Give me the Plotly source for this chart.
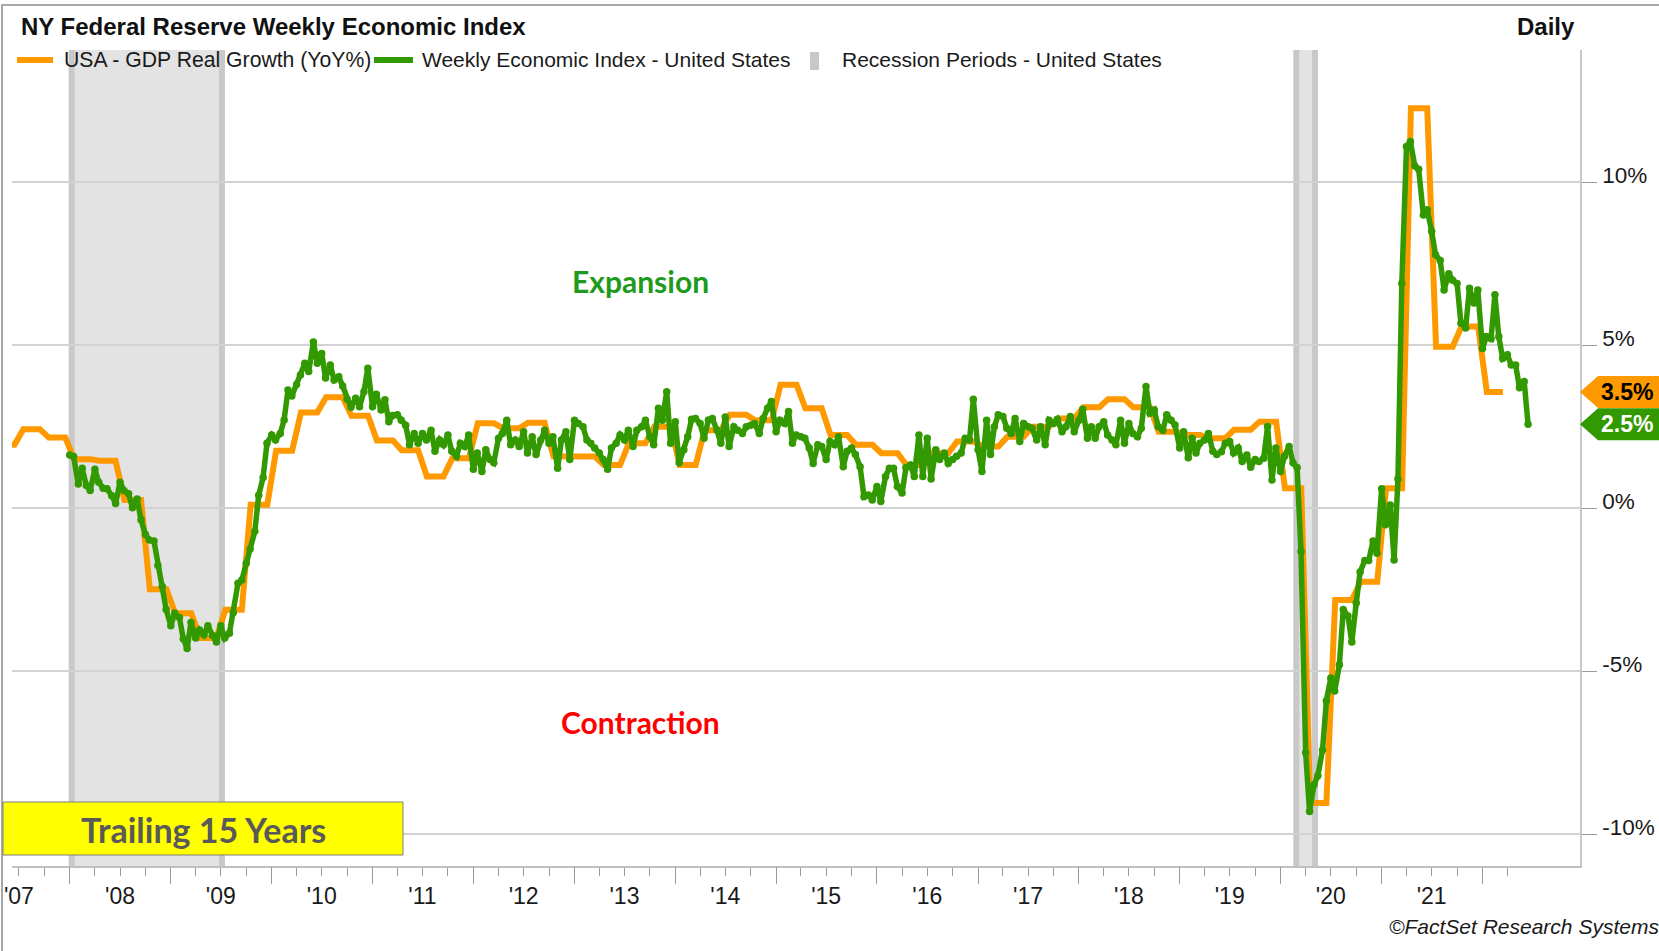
import math
import pandas as pd
import plotly.graph_objects as go

# ---------------- data ----------------
# US real GDP growth, YoY %, one value per quarter from 2007-Q2 to 2022-Q1
gdp_first_quarter = "2007-04-01"
gdp_yoy = [1.95, 2.43, 2.17,
           1.51, 1.46, 0.26, -2.48,
           -3.22, -3.98, -3.11, 0.11,
           1.77, 2.94, 3.41, 2.84,
           2.08, 1.78, 0.98, 1.54,
           2.61, 2.46, 2.63, 1.60,
           1.59, 1.33, 2.00, 2.50,
           1.33, 2.40, 2.87, 2.70,
           3.79, 3.07, 2.25, 1.95,
           1.69, 1.33, 1.69, 2.05,
           1.90, 2.20, 2.50, 2.76,
           3.10, 3.35, 3.10, 2.35,
           2.25, 2.15, 2.41, 2.66,
           0.62, -9.04, -2.81, -2.25,
           0.62, 12.27, 4.96, 5.58,
           3.57]

# NY Fed Weekly Economic Index, sampled twice a month (1st and 15th), from 2008-01-01
wei_first_date = "2008-01-01"
wei_2008 = [1.64, 1.59, 0.75, 1.23, 0.70, 0.55, 1.20, 0.80, 0.62, 0.60, 0.39, 0.15,
            0.80, 0.55, 0.45, 0.02, 0.29, -0.35, -0.80, -0.97, -1.00, -1.75, -2.40, -3.10]
wei_2009 = [-3.60, -3.22, -3.35, -4.00, -4.30, -3.50, -3.98, -3.73, -3.88, -3.60, -3.90, -4.10,
            -3.60, -3.98, -3.83, -3.20, -2.30, -2.20, -1.68, -1.25, -0.70, 0.40, 0.95, 2.00]
wei_2010 = [2.25, 2.10, 2.30, 2.71, 3.63, 3.45, 3.80, 4.09, 4.45, 4.20, 5.10, 4.45,
            4.75, 4.00, 4.40, 3.94, 4.04, 3.75, 3.35, 3.10, 3.38, 3.12, 3.58, 4.30]
wei_2011 = [3.12, 3.50, 3.02, 3.33, 2.66, 2.85, 2.87, 2.70, 2.55, 1.95, 2.30, 2.00,
            2.30, 2.10, 2.40, 1.75, 2.10, 1.95, 2.25, 1.75, 1.60, 2.00, 1.90, 2.25]
wei_2012 = [1.20, 1.70, 1.13, 1.80, 1.50, 1.40, 2.15, 2.30, 2.70, 1.95, 2.10, 1.90,
            2.35, 1.70, 2.20, 1.65, 2.10, 2.40, 2.00, 2.20, 1.23, 2.10, 2.35, 1.50]
wei_2013 = [2.70, 2.60, 2.50, 2.10, 2.00, 1.85, 1.70, 1.50, 1.20, 1.85, 2.00, 2.25,
            2.10, 2.40, 1.90, 2.40, 2.50, 2.70, 2.20, 1.95, 3.07, 2.70, 3.58, 2.00]
wei_2014 = [2.66, 1.40, 1.80, 2.20, 2.73, 2.76, 2.60, 2.15, 2.71, 2.76, 2.40, 2.00,
            2.80, 1.90, 2.50, 2.40, 2.30, 2.50, 2.55, 2.60, 2.30, 2.76, 3.07, 3.28]
wei_2015 = [2.35, 2.70, 2.60, 2.97, 2.00, 2.25, 2.20, 2.15, 1.85, 1.38, 1.95, 1.90,
            1.50, 2.05, 1.95, 2.20, 1.28, 1.75, 1.85, 1.65, 1.28, 0.36, 0.41, 0.26]
wei_2016 = [0.67, 0.21, 0.98, 1.23, 1.23, 0.67, 0.47, 1.25, 1.33, 0.98, 2.25, 0.98,
            2.15, 0.90, 1.80, 1.50, 1.70, 1.38, 1.50, 1.60, 1.70, 2.15, 2.10, 3.35]
wei_2017 = [1.80, 1.13, 2.70, 1.65, 2.50, 2.87, 2.82, 2.46, 2.30, 2.76, 2.05, 2.60,
            2.50, 2.46, 2.10, 2.50, 1.95, 2.70, 2.60, 2.73, 2.35, 2.50, 2.82, 2.35]
wei_2018 = [2.70, 3.04, 2.15, 2.50, 2.15, 2.50, 2.66, 2.25, 2.10, 1.95, 2.70, 2.00,
            2.60, 2.30, 2.20, 2.46, 3.74, 2.92, 3.02, 2.50, 2.40, 2.87, 2.70, 2.56]
wei_2019 = [1.85, 2.35, 1.55, 2.15, 1.70, 2.00, 2.10, 2.30, 1.75, 1.65, 1.74, 2.00,
            2.05, 1.70, 1.85, 1.44, 1.64, 1.26, 1.50, 1.44, 1.54, 2.51, 0.87, 1.85]
wei_2020 = [1.13, 1.60, 1.90, 1.40, 1.25, -1.32, -7.50, -9.30, -8.48, -8.20, -7.41, -5.90,
            -5.20, -5.60, -4.80, -3.10, -3.30, -4.10, -2.90, -1.95, -1.60, -1.60, -1.00, -1.38]
wei_2021 = [0.60, -0.50, 0.10, -1.58, 0.90, 6.90, 11.10, 11.25, 10.50, 10.40, 9.00, 9.16,
            8.50, 7.78, 7.60, 6.70, 7.20, 7.00, 6.90, 5.68, 5.53, 6.75, 6.30, 6.70]
wei_2022 = [4.90, 5.27, 5.20, 6.55, 5.27, 4.60, 4.71, 4.40, 4.40, 3.70, 3.89, 2.58]

# NBER recession periods (as shaded in the picture)
recession_starts = ["2008-01-08", "2020-02-27"]
recession_ends = ["2009-07-05", "2020-05-05"]

# axis
x_range = ["2007-06-06", "2022-12-20"]
year_labels = ["'07", "'08", "'09", "'10", "'11", "'12", "'13", "'14",
               "'15", "'16", "'17", "'18", "'19", "'20", "'21"]
label_years = list(range(2007, 2022))
long_tick_years = list(range(2008, 2023))
y_ticks = [-10, -5, 0, 5, 10]
y_ticktext = ["-10%", "-5%", "0%", "5%", "10%"]
y_range = [-10.97, 14.06]

# ---------------- styles ----------------
ORANGE = "#FF9900"
GREEN = "#339900"
SHADE = "#E3E3E3"
SHADE_EDGE = "#C9C9C9"
ARIAL = "Liberation Sans, Arial, sans-serif"
W, H = 1659, 951
ML, MR, MT, MB = 12, 79, 50, 85
PW, PH = W - ML - MR, H - MT - MB


def px(x):
    return (x - ML) / PW


def py(y):
    return (H - MB - y) / PH


def tag_text(v):
    # FactSet truncates the last value to one decimal
    return f"{math.floor(v * 10) / 10:.1f}%"


# ---------------- build series ----------------
wei = (wei_2008 + wei_2009 + wei_2010 + wei_2011 + wei_2012 + wei_2013 + wei_2014 +
       wei_2015 + wei_2016 + wei_2017 + wei_2018 + wei_2019 + wei_2020 + wei_2021 + wei_2022)
wei_dates = pd.date_range(wei_first_date, periods=len(wei), freq="SMS")

q_starts = pd.date_range(gdp_first_quarter, periods=len(gdp_yoy), freq="QS")
gdp_x, gdp_y = [], []
for qs, v in zip(q_starts, gdp_yoy):
    qe = qs + pd.DateOffset(months=3)
    gdp_x += [qs + pd.Timedelta(days=16), qe - pd.Timedelta(days=16)]
    gdp_y += [v, v]

fig = go.Figure()
fig.add_trace(go.Scatter(x=gdp_x, y=gdp_y, mode="lines", name="USA - GDP Real Growth (YoY%)",
                         line=dict(color=ORANGE, width=6), showlegend=False, hoverinfo="skip"))
fig.add_trace(go.Scatter(x=wei_dates, y=wei, mode="lines+markers",
                         name="Weekly Economic Index - United States",
                         line=dict(color=GREEN, width=5.5), marker=dict(color=GREEN, size=7.5),
                         showlegend=False, hoverinfo="skip"))
# empty trace so that the overlay axis for yearly ticks is drawn
fig.add_trace(go.Scatter(x=[], y=[], xaxis="x2", yaxis="y", showlegend=False, hoverinfo="skip"))

shapes = []
for s, e in zip(recession_starts, recession_ends):
    shapes.append(dict(type="rect", xref="x", yref="paper", x0=s, x1=e, y0=0, y1=1,
                       fillcolor=SHADE, line=dict(width=0), layer="below"))
    for xx in (s, e):
        shapes.append(dict(type="line", xref="x", yref="paper", x0=xx, x1=xx, y0=0, y1=1,
                           line=dict(color=SHADE_EDGE, width=6), layer="below"))

# outer frame
shapes.append(dict(type="rect", xref="paper", yref="paper", x0=px(2), x1=px(1665), y0=py(5), y1=py(960),
                   line=dict(color="#A8A8A8", width=2), fillcolor="rgba(0,0,0,0)", layer="above"))

# legend symbols
shapes.append(dict(type="line", xref="paper", yref="paper", x0=px(17), x1=px(53), y0=py(60), y1=py(60),
                   line=dict(color=ORANGE, width=6)))
shapes.append(dict(type="line", xref="paper", yref="paper", x0=px(374), x1=px(413), y0=py(60), y1=py(60),
                   line=dict(color=GREEN, width=6)))
shapes.append(dict(type="rect", xref="paper", yref="paper", x0=px(810), x1=px(819), y0=py(52), y1=py(70),
                   fillcolor="#C8C8C8", line=dict(width=0)))

# trailing box
shapes.append(dict(type="rect", xref="paper", yref="paper", x0=px(3), x1=px(403), y0=py(802), y1=py(855),
                   fillcolor="#FFFF00", line=dict(color="#7F7F7F", width=1), layer="above"))

# last-value tags on the right
for val, col in ((gdp_yoy[-1], ORANGE), (wei[-1], GREEN)):
    shapes.append(dict(type="path", xref="paper", yref="y", xsizemode="pixel", ysizemode="pixel",
                       xanchor=1.0, yanchor=val,
                       path="M0,0 L18,16 L79,16 L79,-16 L18,-16 Z",
                       fillcolor=col, line=dict(width=0), layer="above"))

annotations = [
    dict(x=px(19), y=py(26), xref="paper", yref="paper", xanchor="left", yanchor="middle",
         text="<b>NY Federal Reserve Weekly Economic Index</b>", showarrow=False,
         font=dict(family=ARIAL, size=24, color="#111111")),
    dict(x=px(1577), y=py(26), xref="paper", yref="paper", xanchor="right", yanchor="middle",
         text="<b>Daily</b>", showarrow=False, font=dict(family=ARIAL, size=24, color="#111111")),
    dict(x=px(62), y=py(60), xref="paper", yref="paper", xanchor="left", yanchor="middle",
         text="USA - GDP Real Growth (YoY%)", showarrow=False,
         font=dict(family=ARIAL, size=21.2, color="#1A1A1A")),
    dict(x=px(420), y=py(60), xref="paper", yref="paper", xanchor="left", yanchor="middle",
         text="Weekly Economic Index - United States", showarrow=False,
         font=dict(family=ARIAL, size=21, color="#1A1A1A")),
    dict(x=px(840), y=py(60), xref="paper", yref="paper", xanchor="left", yanchor="middle",
         text="Recession Periods - United States", showarrow=False,
         font=dict(family=ARIAL, size=21, color="#1A1A1A")),
    dict(x=px(640), y=py(281), xref="paper", yref="paper", xanchor="center", yanchor="middle",
         text="<b>Expansion</b>", showarrow=False, font=dict(family="Lato", size=30, color="#1E9B1E")),
    dict(x=px(640), y=py(722), xref="paper", yref="paper", xanchor="center", yanchor="middle",
         text="<b>Contraction</b>", showarrow=False, font=dict(family="Lato", size=30, color="#FF0000")),
    dict(x=px(203), y=py(829), xref="paper", yref="paper", xanchor="center", yanchor="middle",
         text="<b>Trailing 15 Years</b>", showarrow=False, font=dict(family="Lato", size=34, color="#595959")),
    dict(x=px(1661), y=py(926), xref="paper", yref="paper", xanchor="right", yanchor="middle",
         text="<i>©FactSet Research Systems</i>", showarrow=False,
         font=dict(family=ARIAL, size=21, color="#1A1A1A")),
    dict(x=px(1627), y=gdp_yoy[-1], xref="paper", yref="y", xanchor="center", yanchor="middle",
         text=f"<b>{tag_text(gdp_yoy[-1])}</b>", showarrow=False,
         font=dict(family=ARIAL, size=23, color="#000000")),
    dict(x=px(1627), y=wei[-1], xref="paper", yref="y", xanchor="center", yanchor="middle",
         text=f"<b>{tag_text(wei[-1])}</b>", showarrow=False,
         font=dict(family=ARIAL, size=23, color="#FFFFFF")),
]

label_dates = [f"{y}-07-01" for y in label_years]
quarter_ticks = pd.date_range("2007-07-01", "2022-04-01", freq="QS")
year_ticks = [f"{y}-01-01" for y in long_tick_years]

fig.update_layout(
    width=W, height=H,
    margin=dict(l=ML, r=MR, t=MT, b=MB, autoexpand=False),
    paper_bgcolor="white", plot_bgcolor="white",
    shapes=shapes, annotations=annotations,
    xaxis=dict(type="date", range=x_range, tickmode="array", tickvals=label_dates, ticktext=year_labels,
               ticks="outside", ticklen=9, tickcolor="rgba(0,0,0,0)",
               tickfont=dict(family=ARIAL, size=23, color="#1A1A1A"),
               showgrid=False, zeroline=False, showline=True, linecolor="#C0C0C0", linewidth=1.5,
               minor=dict(tickmode="array", tickvals=list(quarter_ticks), ticks="outside", ticklen=8,
                          tickcolor="#9A9A9A", tickwidth=1.3, showgrid=False)),
    xaxis2=dict(type="date", range=x_range, overlaying="x", anchor="y", side="bottom",
                tickmode="array", tickvals=year_ticks, ticks="outside", ticklen=17,
                tickcolor="#9A9A9A", tickwidth=1.3, showticklabels=False, showgrid=False,
                zeroline=False, showline=False),
    yaxis=dict(side="right", range=y_range, tickmode="array", tickvals=y_ticks, ticktext=y_ticktext,
               ticks="outside", ticklen=15, tickcolor="#9A9A9A", tickwidth=1.3,
               tickfont=dict(family=ARIAL, size=22.5, color="#1A1A1A"), ticklabelstandoff=1,
               ticklabelshift=-7,
               showgrid=True, gridcolor="#D2D2D2", gridwidth=1.5, zeroline=False,
               showline=True, linecolor="#C8C8C8", linewidth=1.5),
    showlegend=False,
)

fig.write_html("out.html", config={"displayModeBar": False},
               post_script="document.body.style.margin='0';document.body.style.overflow='hidden';")
